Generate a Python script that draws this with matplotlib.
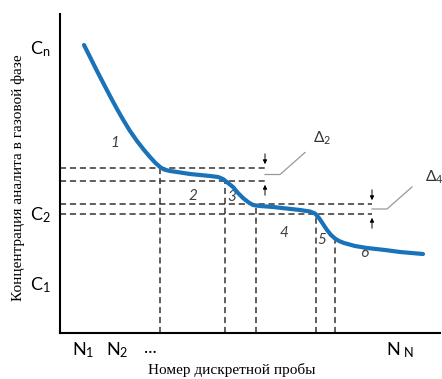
import matplotlib.pyplot as plt

plt.rcParams['font.family'] = ['Lato', 'DejaVu Sans']
plt.rcParams['mathtext.default'] = 'regular'

# curve: sample number (arb. units) vs concentration (arb. units)
curve_x = [24, 30, 37, 44, 50, 57, 63, 70, 77, 84, 90, 95, 100, 104, 110, 117, 130, 150,
           158, 163, 168, 173, 178, 183, 188, 193, 200, 213, 240, 250, 255, 259,
           263, 267, 271, 275, 279, 284, 295, 307, 325, 340, 363]
curve_y = [288, 276, 262, 248.5, 237, 224, 213.5, 202, 192, 183, 176, 170.5, 166,
           163.5, 162, 161, 159, 157, 156, 154, 150, 146, 140, 135, 131, 128, 127,
           126, 123, 121.5, 119.5, 115, 109, 103, 98, 94.5, 92, 90, 87, 85, 83, 81, 79]

levels = [165, 152, 129, 119]
level_ends = [205, 205, 312, 312]
vlines_x = [100, 165, 196, 256, 275]
vlines_top = [165, 152, 129, 119, 93]

ytick_pos = [286, 120, 50]
ytick_lab = ['$C_n$', '$C_2$', '$C_1$']
xtick_pos = [23, 57, 90, 340]
xtick_lab = ['$N_1$', '$N_2$', '...', '$N_{\\ N}$']

seg_labels = ['1', '2', '3', '4', '5', '6']
seg_x = [55, 133, 172, 224, 262, 304]
seg_y = [190, 137, 136, 100, 93, 80]

fig = plt.figure(figsize=(4.42, 3.79), dpi=100)
ax = fig.add_axes([60 / 442, 46 / 379, 380 / 442, 319 / 379])
ax.set_xlim(0, 380)
ax.set_ylim(0, 319)

dash = dict(color='#333333', lw=1.1, ls=(0, (4, 2.5)))
for lv, xe in zip(levels, level_ends):
    ax.plot([0, xe], [lv, lv], **dash)
for xv, top in zip(vlines_x, vlines_top):
    ax.plot([xv, xv], [0, top], **dash)

ax.plot(curve_x, curve_y, color='#1a72b8', lw=3, solid_capstyle='round',
        solid_joinstyle='round', zorder=5)

# delta markers
arr = dict(arrowstyle='-|>', color='black', lw=0.7, mutation_scale=6)
for xa, hi, lo in [(205, levels[0], levels[1]), (312, levels[2], levels[3])]:
    ax.annotate('', xy=(xa, hi + 1), xytext=(xa, hi + 17), arrowprops=arr)
    ax.annotate('', xy=(xa, lo - 1), xytext=(xa, lo - 17), arrowprops=arr)
    mid = (hi + lo) / 2
    ax.plot([xa, xa + 15, xa + 40], [mid, mid, mid + 22], color='#999999', lw=0.9)
ax.text(253, 190, '$\\Delta_2$', fontsize=11, color='#333333')
ax.text(365, 151, '$\\Delta_4$', fontsize=11, color='#333333', clip_on=False)

for s, x, y in zip(seg_labels, seg_x, seg_y):
    ax.text(x, y, s, fontsize=11, style='italic', color='#404040',
            ha='center', va='center')

for sp in ['top', 'right']:
    ax.spines[sp].set_visible(False)
for sp in ['left', 'bottom']:
    ax.spines[sp].set_linewidth(1.5)
ax.set_yticks(ytick_pos)
ax.set_yticklabels(ytick_lab, fontsize=13)
ax.set_xticks(xtick_pos)
ax.set_xticklabels(xtick_lab, fontsize=13)
ax.tick_params(length=0, pad=7)
ax.tick_params(axis='x', pad=5)

fig.text(232 / 442, 1 - 370 / 379, 'Номер дискретной пробы', ha='center',
         va='center', fontsize=11, family='Liberation Serif')
fig.text(18 / 442, 1 - 178 / 379, 'Концентрация аналита в газовой фазе',
         ha='center', va='center', rotation=90, fontsize=11,
         family='Liberation Serif')

fig.savefig('out.png', dpi=100)
